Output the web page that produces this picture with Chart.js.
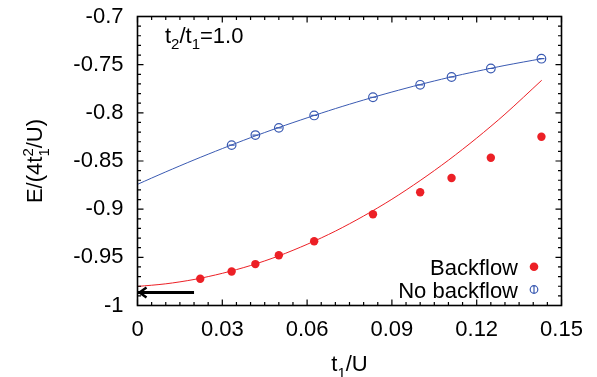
<!DOCTYPE html>
<html>
<head>
<meta charset="utf-8">
<script src="https://cdn.jsdelivr.net/npm/chart.js@4"></script>
<style>
  body { margin: 0; background: #fff; }
  #wrap { width: 597px; height: 377px; position: relative; }
</style>
</head>
<body>
<div id="wrap"><canvas id="chart"></canvas></div>
<script>
// data
const xTicks = [0, 0.03, 0.06, 0.09, 0.12, 0.15];
const xTickLabels = ['0', '0.03', '0.06', '0.09', '0.12', '0.15'];
const yTicks = [-1, -0.95, -0.9, -0.85, -0.8, -0.75, -0.7];
const yTickLabels = ['-1', '-0.95', '-0.9', '-0.85', '-0.8', '-0.75', '-0.7'];

const backflowX = [0.0222, 0.0333, 0.0417, 0.05, 0.0625, 0.0833, 0.1, 0.1111, 0.125, 0.1429];
const backflowY = [-0.9722, -0.9647, -0.957, -0.9478, -0.9333, -0.9053, -0.8825, -0.8677, -0.8466, -0.8248];
const noBackflowX = [0.0333, 0.0417, 0.05, 0.0625, 0.0833, 0.1, 0.1111, 0.125, 0.1429];
const noBackflowY = [-0.8335, -0.8231, -0.8156, -0.8027, -0.7838, -0.7709, -0.7628, -0.754, -0.7438];

// fit curves
const fitX = [0, 0.01, 0.02, 0.03, 0.04, 0.05, 0.06, 0.07, 0.08, 0.09, 0.1, 0.11, 0.12, 0.13, 0.143];
const fitRedY = [-0.9802, -0.9775, -0.973, -0.9666, -0.9585, -0.9485, -0.9365, -0.9228, -0.9071, -0.8897, -0.8703, -0.8492, -0.8262, -0.8014, -0.7662];
const fitBlueY = [-0.8742, -0.8613, -0.8489, -0.8371, -0.8258, -0.8152, -0.8052, -0.7956, -0.7867, -0.7784, -0.7706, -0.7634, -0.7569, -0.7508, -0.7438];

const arrowX = [0.02, 0];
const arrowY = [-0.9865, -0.9865];

const RED = 'rgb(236,32,38)';
const BLUE = 'rgb(58,90,178)';
const FONT = '"Liberation Sans", Arial, sans-serif';

function pts(xs, ys) {
    return xs.map((x, i) => ({ x: x, y: ys[i] }));
}

// text with sub/superscripts
function richWidth(ctx, parts, size) {
    let w = 0;
    parts.forEach(p => {
        if (p[1] === '') {
            ctx.font = size + 'px ' + FONT;
            w += ctx.measureText(p[0]).width;
        } else {
            ctx.font = Math.round(size * 0.68) + 'px ' + FONT;
            let s = p[0].split('|');
            w += Math.max(...s.map(t => ctx.measureText(t).width));
        }
    });
    return w;
}

function drawRich(ctx, parts, x, y, size, align) {
    let w = richWidth(ctx, parts, size);
    let cx = align === 'center' ? x - w / 2 : (align === 'right' ? x - w : x);
    ctx.textAlign = 'left';
    ctx.textBaseline = 'alphabetic';
    ctx.fillStyle = '#000';
    parts.forEach(p => {
        if (p[1] === '') {
            ctx.font = size + 'px ' + FONT;
            ctx.fillText(p[0], cx, y);
            cx += ctx.measureText(p[0]).width;
        } else {
            ctx.font = Math.round(size * 0.68) + 'px ' + FONT;
            let s = p[0].split('|');
            let mw = 0;
            if (p[1] === 'sub' || p[1] === 'subsup') {
                ctx.fillText(s[0], cx, y + size * 0.3);
                mw = Math.max(mw, ctx.measureText(s[0]).width);
            }
            if (p[1] === 'subsup') {
                ctx.fillText(s[1], cx, y - size * 0.42);
                mw = Math.max(mw, ctx.measureText(s[1]).width);
            }
            cx += mw;
        }
    });
}

// box round the plot with inward ticks on all four sides
const framePlugin = {
    id: 'frame',
    afterDraw(chart) {
        const ctx = chart.ctx;
        const a = chart.chartArea;
        const xs = chart.scales.x, ys = chart.scales.y;
        ctx.save();
        ctx.strokeStyle = '#000';
        ctx.lineWidth = 1.2;
        ctx.beginPath();
        for (let i = 0; i <= 30; i++) {
            let px = xs.getPixelForValue(i * 0.005);
            let len = i % 6 === 0 ? 6 : 3.5;
            ctx.moveTo(px, a.bottom); ctx.lineTo(px, a.bottom - len);
            ctx.moveTo(px, a.top); ctx.lineTo(px, a.top + len);
        }
        for (let i = 0; i <= 30; i++) {
            let py = ys.getPixelForValue(-1 + i * 0.01);
            let len = i % 5 === 0 ? 6 : 3.5;
            ctx.moveTo(a.left, py); ctx.lineTo(a.left + len, py);
            ctx.moveTo(a.right, py); ctx.lineTo(a.right - len, py);
        }
        ctx.stroke();
        ctx.lineWidth = 1.6;
        ctx.strokeRect(a.left, a.top, a.right - a.left, a.bottom - a.top);
        ctx.restore();
    }
};

const decorPlugin = {
    id: 'decor',
    afterDraw(chart) {
        const ctx = chart.ctx;
        const a = chart.chartArea;
        const xs = chart.scales.x, ys = chart.scales.y;
        ctx.save();

        // arrow head
        let tx = xs.getPixelForValue(arrowX[1]), ty = ys.getPixelForValue(arrowY[1]);
        ctx.strokeStyle = '#000';
        ctx.lineWidth = 2.5;
        ctx.beginPath();
        ctx.moveTo(tx + 9, ty - 5);
        ctx.lineTo(tx + 2, ty);
        ctx.lineTo(tx + 9, ty + 5);
        ctx.stroke();

        // label top-left
        drawRich(ctx, [['t', ''], ['2', 'sub'], ['/t', ''], ['1', 'sub'], ['=1.0', '']], 165, 42.5, 22, 'left');

        // legend
        drawRich(ctx, [['Backflow', '']], 518, 275, 22, 'right');
        drawRich(ctx, [['No backflow', '']], 518, 297.5, 22, 'right');
        ctx.fillStyle = RED;
        ctx.beginPath();
        ctx.arc(534, 266.7, 4.3, 0, Math.PI * 2);
        ctx.fill();
        ctx.strokeStyle = BLUE;
        ctx.lineWidth = 1.2;
        ctx.beginPath();
        ctx.arc(534, 289.5, 3.8, 0, Math.PI * 2);
        ctx.moveTo(534, 285.7); ctx.lineTo(534, 293.3);
        ctx.stroke();

        // axis titles
        drawRich(ctx, [['t', ''], ['1', 'sub'], ['/U', '']], (a.left + a.right) / 2, 371, 22, 'center');
        ctx.translate(42, (a.top + a.bottom) / 2);
        ctx.rotate(-Math.PI / 2);
        drawRich(ctx, [['E/(4t', ''], ['1|2', 'subsup'], ['/U)', '']], 0, 0, 22, 'center');

        ctx.restore();
    }
};

const ctx = document.getElementById('chart').getContext('2d');
new Chart(ctx, {
    type: 'scatter',
    data: {
        datasets: [
            { label: 'fit red', type: 'line', data: pts(fitX, fitRedY), borderColor: RED, borderWidth: 1, pointRadius: 0, tension: 0.3, fill: false },
            { label: 'fit blue', type: 'line', data: pts(fitX, fitBlueY), borderColor: BLUE, borderWidth: 1, pointRadius: 0, tension: 0.3, fill: false },
            { label: 'arrow', type: 'line', data: pts(arrowX, arrowY), borderColor: '#000', borderWidth: 3, pointRadius: 0, fill: false },
            { label: 'Backflow', data: pts(backflowX, backflowY), backgroundColor: RED, borderColor: RED, pointRadius: 4.2, borderWidth: 0 },
            { label: 'No backflow', data: pts(noBackflowX, noBackflowY), backgroundColor: 'rgba(0,0,0,0)', borderColor: BLUE, pointRadius: 4.3, borderWidth: 1.2 },
            { label: 'No backflow bar', data: pts(noBackflowX, noBackflowY), pointStyle: 'line', borderColor: BLUE, pointRadius: 3, borderWidth: 1.2 }
        ]
    },
    options: {
        responsive: true,
        maintainAspectRatio: false,
        animation: false,
        layout: { autoPadding: false, padding: { left: 0, right: 35.5, top: 16.5, bottom: 0 } },
        plugins: { legend: { display: false }, tooltip: { enabled: false } },
        scales: {
            x: {
                type: 'linear', min: 0, max: 0.15,
                grid: { display: false, drawTicks: false }, border: { display: false },
                afterBuildTicks: function(scale) { scale.ticks = xTicks.map(v => ({ value: v })); },
                afterFit: function(scale) {
                    scale.height = 71.5;
                    scale.paddingLeft = 0;
                    scale.paddingRight = 0;
                },
                ticks: { padding: 11, maxRotation: 0, color: '#000', font: { family: FONT, size: 22 },
                    callback: function(value, index) { return xTickLabels[index]; } }
            },
            y: {
                type: 'linear', min: -1, max: -0.7,
                grid: { display: false, drawTicks: false }, border: { display: false },
                afterBuildTicks: function(scale) { scale.ticks = yTicks.map(v => ({ value: v })); },
                afterFit: function(scale) {
                    scale.width = 137.5;
                    scale.paddingTop = 0;
                    scale.paddingBottom = 0;
                },
                ticks: { padding: 14, color: '#000', font: { family: FONT, size: 22 },
                    callback: function(value, index) { return yTickLabels[index]; } }
            }
        }
    },
    plugins: [framePlugin, decorPlugin]
});
</script>
</body>
</html>
